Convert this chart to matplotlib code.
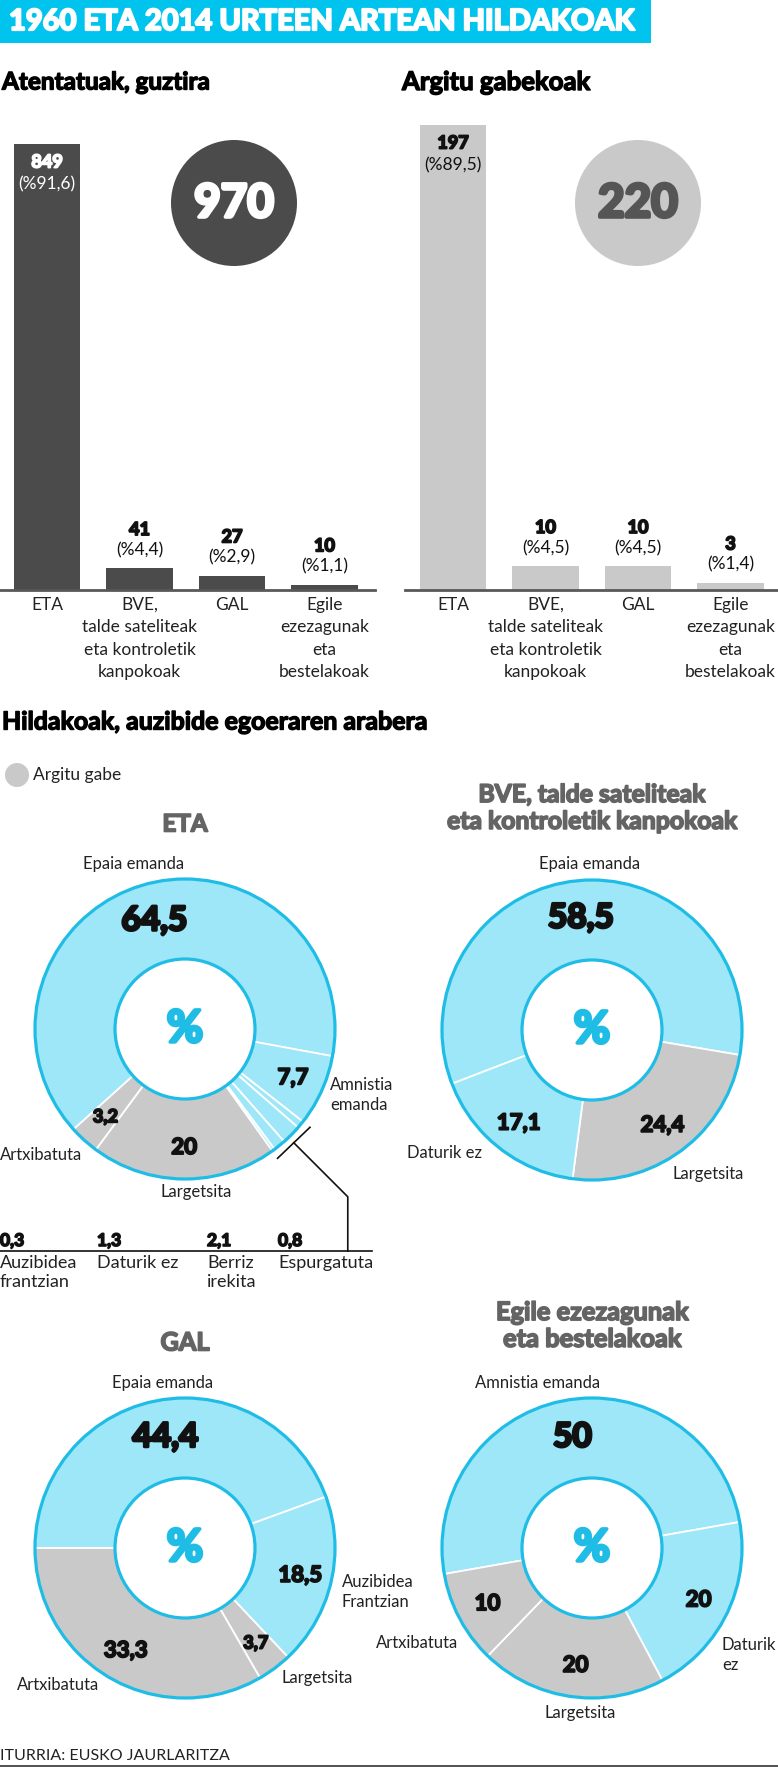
import numpy as np
import matplotlib
matplotlib.use('Agg')
import matplotlib.pyplot as plt
import matplotlib.patheffects as pe
from matplotlib.patches import Circle, Rectangle

W, H = 778, 1767

# bar charts: all attacks and unsolved ones
bar_cats = ['ETA', 'BVE,\ntalde sateliteak\neta kontroletik\nkanpokoak', 'GAL',
            'Egile\nezezagunak\neta\nbestelakoak']
total_vals = [849, 41, 27, 10]
total_pcts = ['91,6', '4,4', '2,9', '1,1']
total_all = 970
unsolved_vals = [197, 10, 10, 3]
unsolved_pcts = ['89,5', '4,5', '4,5', '1,4']
unsolved_all = 220

# donuts (percent), grey = "Argitu gabe"
eta_labels = ['Epaia emanda', 'Amnistia emanda', 'Espurgatuta', 'Berriz\nirekita',
              'Daturik ez', 'Auzibidea\nfrantzian', 'Largetsita', 'Artxibatuta']
eta_vals = [64.5, 7.7, 0.8, 2.1, 1.3, 0.3, 20, 3.2]
eta_grey = [0, 0, 0, 0, 0, 0, 1, 1]

bve_labels = ['Epaia emanda', 'Largetsita', 'Daturik ez']
bve_vals = [58.5, 24.4, 17.1]
bve_grey = [0, 1, 0]

gal_labels = ['Epaia emanda', 'Auzibidea\nFrantzian', 'Largetsita', 'Artxibatuta']
gal_vals = [44.4, 18.5, 3.7, 33.3]
gal_grey = [0, 0, 1, 1]

egile_labels = ['Amnistia emanda', 'Daturik\nez', 'Largetsita', 'Artxibatuta']
egile_vals = [50, 20, 20, 10]
egile_grey = [0, 0, 1, 1]

CYAN = '#00C3EE'
CYAN_FILL = '#9DE7F9'
CYAN_LINE = '#1FBDE6'
DARK = '#4B4B4B'
GREY = '#C9C9C9'
TITLE_GREY = '#646464'
INK = '#111111'
TXT = '#222222'

plt.rcParams['font.family'] = ['Lato', 'DejaVu Sans']

fig = plt.figure(figsize=(W / 100, H / 100), dpi=100)


def px_rect(x0, y0, x1, y1):
    return [x0 / W, 1 - y1 / H, (x1 - x0) / W, (y1 - y0) / H]


def fmt(v):
    return f'{v:g}'.replace('.', ',')


def fit(t, width):
    r = fig.canvas.get_renderer()
    bb = t.get_window_extent(r)
    t.set_fontsize(t.get_fontsize() * width / bb.width)


def heavy(t, lw=1.2):
    # fake a black weight by stroking the glyph outline in its own colour
    t.set_path_effects([pe.withStroke(linewidth=lw, foreground=t.get_color())])
    return t


# overlay in pixel coordinates for headings and free labels
ov = fig.add_axes([0, 0, 1, 1], zorder=10)
ov.set_xlim(0, W)
ov.set_ylim(H, 0)
ov.axis('off')
ov.patch.set_alpha(0)

ov.add_patch(Rectangle((0, 0), 651, 43, color=CYAN, lw=0))
t = ov.text(9, 22, '1960 ETA 2014 URTEEN ARTEAN HILDAKOAK', color='white',
            fontsize=18, fontweight='bold', va='center')
fit(t, 626)
heavy(t, 1.6)

t = ov.text(2, 82, 'Atentatuak, guztira', fontsize=15, fontweight='bold', va='center')
fit(t, 208)
heavy(t, 1.0)
t = ov.text(402, 82, 'Argitu gabekoak', fontsize=15, fontweight='bold', va='center')
fit(t, 189)
heavy(t, 1.0)


def bar_chart(rect, c0, vals, pcts, color, inside_color, total, circ_xy, circ_col, num_col):
    ax = fig.add_axes(rect)
    x = np.arange(len(vals))
    ax.bar(x, vals, width=0.72, color=color, zorder=2)
    x0 = rect[0] * W
    x1 = x0 + rect[2] * W
    ax.set_xlim(-(c0 - x0) / 92.5, (x1 - c0) / 92.5)
    ax.set_ylim(0, max(vals))
    for s in ['top', 'left', 'right']:
        ax.spines[s].set_visible(False)
    ax.spines['bottom'].set_color('#585858')
    ax.spines['bottom'].set_linewidth(2)
    ax.set_xticks([])
    ax.set_yticks([])
    ax.patch.set_alpha(0)
    for i, (v, p) in enumerate(zip(vals, pcts)):
        if v == max(vals):
            off1, off2, c = -13, -29, inside_color
        else:
            off1, off2, c = 28, 13, INK
        t = ax.annotate(str(v), (i, v), xytext=(0, off1), textcoords='offset points',
                        ha='center', va='center', fontsize=13, fontweight='bold', color=c)
        heavy(t, 1.3)
        ax.annotate(f'(%{p})', (i, v), xytext=(0, off2), textcoords='offset points',
                    ha='center', va='center', fontsize=12.5, color=c)
        ax.annotate(bar_cats[i], (i, 0), xytext=(0, -5), textcoords='offset points',
                    ha='center', va='top', fontsize=12.5, linespacing=1.5, color=TXT)
    ov.add_patch(Circle(circ_xy, 63, color=circ_col, lw=0))
    t = ov.text(circ_xy[0], circ_xy[1] + 1, str(total), ha='center', va='center',
                fontsize=33, fontweight='bold', color=num_col)
    heavy(t, 2.6)
    return ax


bar_chart(px_rect(0, 144, 375, 590), 47, total_vals, total_pcts, DARK, 'white',
          total_all, (234, 203), DARK, 'white')
bar_chart(px_rect(405, 125, 778, 590), 453, unsolved_vals, unsolved_pcts, GREY, INK,
          unsolved_all, (638, 203), GREY, '#555555')

# second part
t = ov.text(2, 722, 'Hildakoak, auzibide egoeraren arabera', fontsize=15,
            fontweight='bold', va='center')
fit(t, 427)
heavy(t, 1.0)
ov.add_patch(Circle((17, 775), 12, color=GREY, lw=0))
ov.text(33, 775, 'Argitu gabe', fontsize=12.5, va='center', color=TXT)

R_IN = 70 / 150


def donut(cx, cy, vals, grey, start, title, title_w):
    ax = fig.add_axes(px_rect(cx - 165, cy - 165, cx + 165, cy + 165))
    cols = [GREY if g else CYAN_FILL for g in grey]
    wedges, _ = ax.pie(vals, colors=cols, startangle=start, counterclock=False, radius=1,
                       wedgeprops=dict(width=1 - R_IN, edgecolor='white', linewidth=1.3))
    ax.set_xlim(-1.1, 1.1)
    ax.set_ylim(-1.1, 1.1)
    ax.add_patch(Circle((0, 0), 1, fill=False, ec=CYAN_LINE, lw=2.3))
    ax.add_patch(Circle((0, 0), R_IN, fill=False, ec=CYAN_LINE, lw=2.3))
    t = ax.text(0, 0, '%', ha='center', va='center', fontsize=32, fontweight='bold',
                color=CYAN_LINE)
    heavy(t, 2.5)
    big = max(vals)
    for w, v in zip(wedges, vals):
        if v < 3:
            continue
        a = np.deg2rad((w.theta1 + w.theta2) / 2)
        fs = 24 if v == big else (13 if v < 5 else 16)
        rr = 0.75 if v == big else 0.79
        t = ax.text(rr * np.cos(a), rr * np.sin(a), fmt(v), ha='center', va='center',
                    fontsize=fs, fontweight='bold', color=INK)
        heavy(t, 2.2 if v == big else 1.4)
    nl = title.count('\n')
    t = ov.text(cx, cy - 205 - 17 * nl, title, ha='center', va='center', fontsize=15,
                fontweight='bold', color=TITLE_GREY, linespacing=1.2)
    fit(t, title_w)
    heavy(t, 1.2)
    return ax, wedges


def lab(x, y, s, ha='left'):
    ov.text(x, y, s, ha=ha, va='center', fontsize=12, color=TXT, linespacing=1.3)


# ETA
ax_eta, w_eta = donut(185, 1029, eta_vals, eta_grey, 222, 'ETA', 45)
lab(134, 864, eta_labels[0], 'center')
lab(330, 1095, 'Amnistia\nemanda')
lab(0, 1155, eta_labels[7])
lab(196, 1192, eta_labels[6], 'center')

# bracket for the four thin slices
small = [2, 3, 4, 5]
t_lo = np.deg2rad(min(w_eta[i].theta1 for i in small))
t_hi = np.deg2rad(max(w_eta[i].theta2 for i in small))
rb = 1.06
p1 = (rb * np.cos(t_lo), rb * np.sin(t_lo))
p2 = (rb * np.cos(t_hi), rb * np.sin(t_hi))
ax_eta.plot([p1[0], p2[0]], [p1[1], p2[1]], color=INK, lw=1.2, clip_on=False)
mx, my = (p1[0] + p2[0]) / 2, (p1[1] + p2[1]) / 2
y_line = 1251
x_end = mx + 0.36
ax_eta.plot([mx, x_end, x_end], [my, my - 0.36, (1029 - y_line) / 150],
            color=INK, lw=1.2, clip_on=False)

ov.plot([0, 372], [y_line, y_line], color=INK, lw=1.2)
small_x = [0, 97, 207, 278]
for x, i in zip(small_x, [5, 4, 3, 2]):
    t = ov.text(x, 1241, fmt(eta_vals[i]), ha='left', va='center', fontsize=12.5,
                fontweight='bold', color=INK)
    heavy(t, 1.2)
    ov.text(x, 1255, eta_labels[i], ha='left', va='top', fontsize=13, color=TXT,
            linespacing=1.2)

# BVE
donut(592, 1030, bve_vals, bve_grey, 201, 'BVE, talde sateliteak\neta kontroletik kanpokoak', 292)
lab(590, 864, bve_labels[0], 'center')
lab(407, 1153, bve_labels[2])
lab(673, 1174, bve_labels[1])

# GAL
donut(185, 1548, gal_vals, gal_grey, 180, 'GAL', 49)
lab(163, 1383, gal_labels[0], 'center')
lab(342, 1592, gal_labels[1])
lab(282, 1678, gal_labels[2])
lab(17, 1685, gal_labels[3])

# Egile ezezagunak
donut(592, 1548, egile_vals, egile_grey, 190, 'Egile ezezagunak\neta bestelakoak', 193)
lab(538, 1383, egile_labels[0], 'center')
lab(458, 1643, egile_labels[3], 'right')
lab(722, 1655, egile_labels[1])
lab(580, 1713, egile_labels[2], 'center')

ov.text(0, 1756, 'ITURRIA: EUSKO JAURLARITZA', va='center', fontsize=11.5, color=TXT)
ov.plot([0, W], [1765.5, 1765.5], color='#333333', lw=1.2)

fig.savefig('out.png', dpi=100)
